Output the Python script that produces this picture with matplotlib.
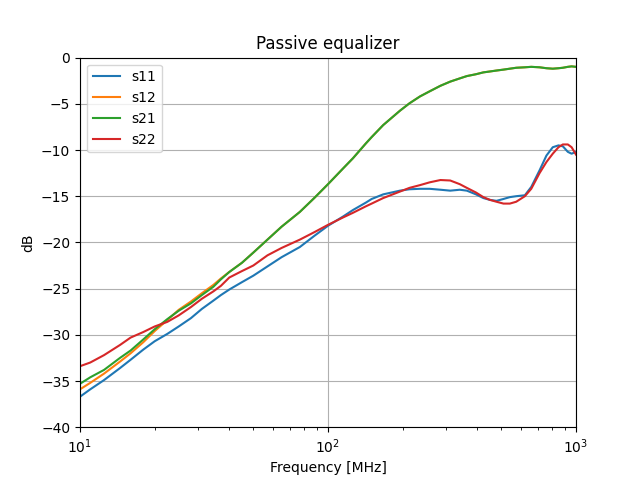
import numpy as np
import matplotlib
matplotlib.use('Agg')
import matplotlib.pyplot as plt

freq = [10, 11, 12.5, 14.5, 16, 18, 20, 22.5, 25, 28, 31, 34.5, 37, 40, 45, 50,
        57, 65, 77, 88, 100, 115, 126, 142, 150, 167, 195, 213, 235, 257, 284,
        311, 340, 363, 395, 423, 450, 478, 510, 541, 574, 622, 660, 713, 760,
        806, 850, 885, 927, 960, 1000]

s11 = [-36.7, -35.9, -34.9, -33.6, -32.7, -31.6, -30.7, -29.9, -29.1, -28.2, -27.2,
       -26.3, -25.7, -25.1, -24.3, -23.6, -22.6, -21.6, -20.5, -19.3, -18.2, -17.2,
       -16.5, -15.7, -15.3, -14.8, -14.4, -14.25, -14.2, -14.2, -14.3, -14.4, -14.3,
       -14.4, -14.8, -15.2, -15.4, -15.5, -15.3, -15.1, -15.0, -14.9, -14.0, -12.2,
       -10.6, -9.7, -9.5, -9.6, -10.2, -10.4, -10.2]

s12 = [-35.9, -35.2, -34.2, -32.9, -32.0, -30.8, -29.6, -28.4, -27.3, -26.4, -25.5,
       -24.6, -23.9, -23.2, -22.2, -21.1, -19.7, -18.3, -16.7, -15.2, -13.7, -12.0,
       -10.9, -9.3, -8.6, -7.3, -5.75, -4.95, -4.2, -3.65, -3.05, -2.6, -2.25, -2.0,
       -1.8, -1.6, -1.5, -1.4, -1.3, -1.2, -1.1, -1.05, -1.0, -1.05, -1.15, -1.2,
       -1.15, -1.1, -1.0, -0.95, -1.0]

s21 = [-35.3, -34.6, -33.8, -32.5, -31.7, -30.5, -29.4, -28.3, -27.4, -26.6, -25.7,
       -24.8, -24.0, -23.2, -22.2, -21.1, -19.7, -18.3, -16.7, -15.2, -13.7, -12.0,
       -10.9, -9.3, -8.6, -7.3, -5.75, -4.95, -4.2, -3.65, -3.05, -2.6, -2.25, -2.0,
       -1.8, -1.6, -1.5, -1.4, -1.3, -1.2, -1.1, -1.05, -1.0, -1.05, -1.15, -1.2,
       -1.15, -1.1, -1.0, -0.95, -1.0]

s22 = [-33.4, -33.0, -32.2, -31.1, -30.3, -29.7, -29.1, -28.6, -27.9, -27.0, -26.1,
       -25.3, -24.7, -23.8, -23.1, -22.5, -21.4, -20.6, -19.7, -18.9, -18.1, -17.3,
       -16.8, -16.1, -15.8, -15.2, -14.5, -14.1, -13.8, -13.5, -13.25, -13.3, -13.7,
       -14.1, -14.6, -15.1, -15.4, -15.6, -15.8, -15.8, -15.6, -15.0, -14.2, -12.5,
       -11.3, -10.4, -9.7, -9.4, -9.4, -9.7, -10.5]

fig, ax = plt.subplots(figsize=(6.4, 4.8), dpi=100)
ax.semilogx(freq, s11, label='s11')
ax.semilogx(freq, s12, label='s12')
ax.semilogx(freq, s21, label='s21')
ax.semilogx(freq, s22, label='s22')
ax.set_xlim(10, 1000)
ax.set_ylim(-40, 0)
ax.grid(True)
ax.legend(loc='upper left')
ax.set_title('Passive equalizer')
ax.set_xlabel('Frequency [MHz]')
ax.set_ylabel('dB')
fig.savefig('out.png', dpi=100)
